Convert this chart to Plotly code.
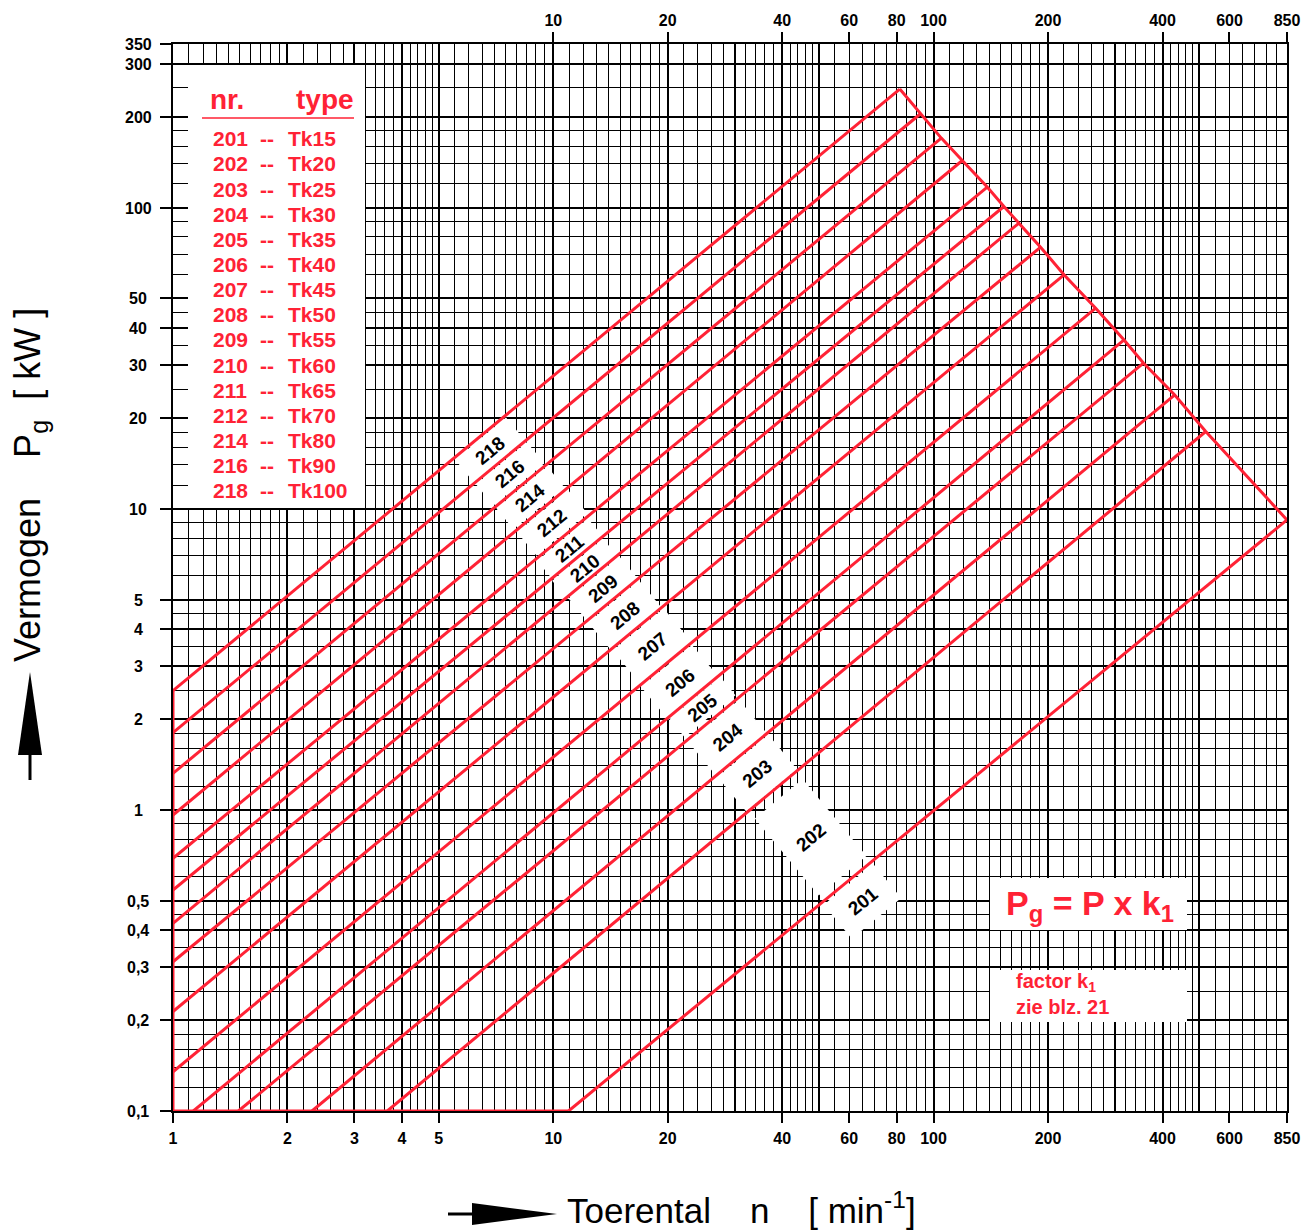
import math
import plotly.graph_objects as go

# ---------------- data ----------------
line_ids = ['201', '202', '203', '204', '205', '206', '207', '208',
            '209', '210', '211', '212', '214', '216', '218']
line_types = ['Tk15', 'Tk20', 'Tk25', 'Tk30', 'Tk35', 'Tk40', 'Tk45', 'Tk50',
              'Tk55', 'Tk60', 'Tk65', 'Tk70', 'Tk80', 'Tk90', 'Tk100']
# start of every line (n [min-1], Pg [kW])
start_n = [10.97, 3.66, 2.32, 1.486, 1.131, 1, 1, 1, 1, 1, 1, 1, 1, 1, 1]
start_p = [0.1, 0.1, 0.1, 0.1, 0.1, 0.135, 0.214, 0.313, 0.420, 0.542,
           0.691, 0.962, 1.323, 1.806, 2.49]
# end of every line on the upper-right limit
end_n = [850, 519.7, 430.8, 356.3, 316.9, 266.9, 220.3, 191.2, 167.7, 153.1,
         138.4, 119.0, 104.8, 92.4, 81.5]
end_p = [9.19, 18.07, 23.9, 30.5, 36.4, 46.4, 59.9, 74.0, 88.96, 101.0,
         117.2, 143.6, 170.4, 205.3, 248.0]

x_tick_vals = [1, 2, 3, 4, 5, 10, 20, 40, 60, 80, 100, 200, 400, 600, 850]
x_top_tick_vals = [10, 20, 40, 60, 80, 100, 200, 400, 600, 850]
y_tick_vals = [0.1, 0.2, 0.3, 0.4, 0.5, 1, 2, 3, 4, 5, 10, 20, 30, 40, 50,
               100, 200, 300, 350]
y_tick_text = ['0,1', '0,2', '0,3', '0,4', '0,5', '1', '2', '3', '4', '5',
               '10', '20', '30', '40', '50', '100', '200', '300', '350']

# ---------------- style / layout constants ----------------
RED = '#ff2235'
FONT = 'Liberation Sans, Arial, Helvetica, sans-serif'
W, H = 1304, 1231
ML, MR, MT, MB = 173, 17, 44, 120
PW, PH = W - ML - MR, H - MT - MB
XR = [0.0, math.log10(850)]
YR = [-1.0, math.log10(350)]
PPD_X = PW / (XR[1] - XR[0])
PPD_Y = PH / (YR[1] - YR[0])


def xp(px):
    return (px - ML) / PW


def yp(py):
    return (H - MB - py) / PH


def n_at(px):
    return 10 ** (XR[0] + (px - ML) / PPD_X)


def p_at(py):
    return 10 ** (YR[0] + (H - MB - py) / PPD_Y)


def decade_vals(mants, lo, hi):
    out = []
    for e in range(-1, 3):
        for m in mants:
            v = round(m * 10 ** e, 6)
            if lo <= v <= hi and v not in out:
                out.append(v)
    return out


x_major = decade_vals([1, 2, 3, 4, 5], 1, 850)
x_minor = decade_vals([1.1, 1.2, 1.3, 1.4, 1.5, 1.6, 1.7, 1.8, 1.9,
                       2.2, 2.4, 2.6, 2.8, 3.2, 3.4, 3.6, 3.8,
                       4.2, 4.4, 4.6, 4.8, 5.5, 6, 6.5, 7, 7.5, 8, 8.5, 9, 9.5], 1, 849)
y_major = y_tick_vals
y_minor = decade_vals([1.2, 1.4, 1.6, 1.8, 2.5, 3.5, 4.5, 6, 7, 8, 9], 0.1, 349)

# label placement along each line (layout)
label_n = [59.1, 37.7, 31.3, 26.2, 23.4, 19.7, 16.6, 14.3, 12.7, 11.5,
           10.5, 9.3, 8.2, 7.25, 6.39]
label_offset = [24.9, 59.8, 24.4, 23.9, 13.8, 23.3, 24.5, 19.9, 16.3, 13.1,
                13.2, 17.1, 15.4, 15.7, 16.9]
label_box_len = [64, 62] + [66] * 13
label_box_h = [44, 100] + [None] * 13

fig = go.Figure()

# rating lines
for i in range(len(line_ids)):
    fig.add_trace(go.Scatter(
        x=[start_n[i], end_n[i]], y=[start_p[i], end_p[i]], mode='lines',
        line=dict(color=RED, width=3), cliponaxis=False,
        hoverinfo='skip', showlegend=False))

# upper-right limit through the line ends
fig.add_trace(go.Scatter(
    x=end_n[::-1], y=end_p[::-1], mode='lines',
    line=dict(color=RED, width=3), cliponaxis=False,
    hoverinfo='skip', showlegend=False))
# left / bottom limit
fig.add_trace(go.Scatter(
    x=[start_n[0], start_n[-1], start_n[-1]],
    y=[start_p[0], start_p[0], start_p[-1]], mode='lines',
    line=dict(color=RED, width=3), cliponaxis=False,
    hoverinfo='skip', showlegend=False))

# dummy traces so the overlay label axes are drawn
for ax in ['x2', 'x3']:
    fig.add_trace(go.Scatter(x=[10], y=[1], xaxis=ax, yaxis='y', mode='markers',
                             marker=dict(opacity=0), hoverinfo='skip',
                             showlegend=False))

shapes = []
annotations = []

# rotated line labels with white boxes
for i, lid in enumerate(line_ids):
    ln0, ln1 = math.log10(start_n[i]), math.log10(end_n[i])
    lp0, lp1 = math.log10(start_p[i]), math.log10(end_p[i])
    s = (lp1 - lp0) / (ln1 - ln0)
    th = math.atan(s * PPD_Y / PPD_X)
    lx = math.log10(label_n[i])
    ly = lp0 + (lx - ln0) * s
    d = label_offset[i]
    cx, cy = d * math.sin(th), -d * math.cos(th)
    ux, uy = math.cos(th), math.sin(th)
    vx, vy = -math.sin(th), math.cos(th)
    hl = label_box_len[i] / 2
    bh = label_box_h[i] if label_box_h[i] else max(2 * d - 4, 22)
    hh = bh / 2
    pts = [(cx + a * hl * ux + b * hh * vx, cy + a * hl * uy + b * hh * vy)
           for a, b in [(-1, -1), (1, -1), (1, 1), (-1, 1)]]
    path = 'M ' + ' L '.join(f'{px:.2f} {py:.2f}' for px, py in pts) + ' Z'
    shapes.append(dict(type='path', xref='x', yref='y', xsizemode='pixel',
                       ysizemode='pixel', xanchor=10 ** lx, yanchor=10 ** ly,
                       path=path, fillcolor='white', line=dict(width=0),
                       layer='between'))
    annotations.append(dict(x=lx, y=ly, xref='x', yref='y', text=lid,
                            showarrow=False, textangle=-math.degrees(th),
                            xshift=cx, yshift=cy,
                            font=dict(family=FONT, size=19, color='black',
                                      weight='bold')))

# y tick labels (centred, as in the reference)
for v, t in zip(y_tick_vals, y_tick_text):
    annotations.append(dict(x=xp(138), y=math.log10(v), xref='paper', yref='y',
                            text=t, showarrow=False, xanchor='center',
                            yanchor='middle', yshift=-0.5,
                            font=dict(family=FONT, size=16, color='black',
                                      weight='bold')))

# legend box
shapes.append(dict(type='rect', xref='x', yref='y', x0=n_at(188), x1=n_at(365),
                   y0=p_at(508), y1=p_at(65), fillcolor='white',
                   line=dict(width=0), layer='between'))
shapes.append(dict(type='line', xref='paper', yref='paper', x0=xp(202), x1=xp(354),
                   y0=yp(118), y1=yp(118), line=dict(color=RED, width=1.5)))
annotations.append(dict(x=xp(208), y=yp(99), xref='paper', yref='paper',
                        text='nr.', showarrow=False, xanchor='left', yanchor='middle',
                        font=dict(family=FONT, size=28, color=RED, weight='bold')))
annotations.append(dict(x=xp(356), y=yp(99), xref='paper', yref='paper',
                        text='type', showarrow=False, xanchor='right', yanchor='middle',
                        font=dict(family=FONT, size=28, color=RED, weight='bold')))
for i, lid in enumerate(line_ids):
    yc = yp(147.7 + i * 25.16 - 9)
    for xx, txt in [(210.5, lid), (258, '--'), (285.5, line_types[i])]:
        annotations.append(dict(x=xp(xx), y=yc, xref='paper', yref='paper',
                                text=txt, showarrow=False, xanchor='left',
                                yanchor='middle',
                                font=dict(family=FONT, size=21, color=RED,
                                          weight='bold')))

# formula boxes
shapes.append(dict(type='rect', xref='x', yref='y', x0=n_at(990), x1=n_at(1187),
                   y0=p_at(930), y1=p_at(878), fillcolor='white',
                   line=dict(width=0), layer='between'))
shapes.append(dict(type='rect', xref='x', yref='y', x0=n_at(990), x1=n_at(1187),
                   y0=p_at(1022), y1=p_at(970), fillcolor='white',
                   line=dict(width=0), layer='between'))
annotations.append(dict(x=xp(1090), y=yp(905), xref='paper', yref='paper',
                        text='P<sub>g</sub> = P x k<sub>1</sub>', showarrow=False,
                        xanchor='center', yanchor='middle',
                        font=dict(family=FONT, size=34, color=RED, weight='bold')))
annotations.append(dict(x=xp(1014), y=yp(994), xref='paper', yref='paper',
                        text='factor k<sub>1</sub><br>zie blz. 21', showarrow=False,
                        xanchor='left', yanchor='middle', align='left',
                        font=dict(family=FONT, size=20, color=RED, weight='bold')))

# axis titles
annotations.append(dict(x=xp(741), y=yp(1208), xref='paper', yref='paper',
                        text='Toerental    n    [ min<sup>-1</sup>]', showarrow=False,
                        xanchor='center', yanchor='middle',
                        font=dict(family=FONT, size=35, color='black')))
annotations.append(dict(x=xp(30), y=yp(485), xref='paper', yref='paper',
                        text='Vermogen    P<sub>g</sub>  [ kW ]', showarrow=False,
                        textangle=-90, xanchor='center', yanchor='middle',
                        font=dict(family=FONT, size=36, color='black')))


# arrows next to the axis titles
def ppath(pts):
    return 'M ' + ' L '.join(f'{xp(a):.5f} {yp(b):.5f}' for a, b in pts) + ' Z'


shapes.append(dict(type='path', xref='paper', yref='paper',
                   path=ppath([(30, 672), (42, 755), (18, 755)]),
                   fillcolor='black', line=dict(width=0), layer='above'))
shapes.append(dict(type='line', xref='paper', yref='paper', x0=xp(30), x1=xp(30),
                   y0=yp(750), y1=yp(780), line=dict(color='black', width=3)))
shapes.append(dict(type='path', xref='paper', yref='paper',
                   path=ppath([(557, 1214), (472, 1203), (472, 1225)]),
                   fillcolor='black', line=dict(width=0), layer='above'))
shapes.append(dict(type='line', xref='paper', yref='paper', x0=xp(448), x1=xp(476),
                   y0=yp(1214), y1=yp(1214), line=dict(color='black', width=3)))

tickfont = dict(family=FONT, size=16, color='black', weight='bold')

fig.update_layout(
    width=W, height=H,
    margin=dict(l=ML, r=MR, t=MT, b=MB, pad=0, autoexpand=False),
    paper_bgcolor='white', plot_bgcolor='white', showlegend=False,
    font=dict(family=FONT),
    xaxis=dict(type='log', range=XR, autorange=False, tickmode='array',
               tickvals=x_major, showticklabels=False, ticks='',
               showgrid=True, gridcolor='black', gridwidth=2,
               minor=dict(tickmode='array', tickvals=x_minor, showgrid=True,
                          gridcolor='black', gridwidth=1, ticks=''),
               showline=True, linecolor='black', linewidth=2, mirror=True,
               zeroline=False, layer='below traces', fixedrange=True,
               automargin=False),
    xaxis2=dict(type='log', range=XR, autorange=False, overlaying='x', anchor='y',
                side='bottom', tickmode='array', tickvals=x_tick_vals,
                ticktext=[str(v) for v in x_tick_vals], ticks='outside',
                ticklen=11, tickwidth=2, tickcolor='black', showgrid=False,
                zeroline=False, showline=False, tickfont=tickfont,
                ticklabelstandoff=2, fixedrange=True, automargin=False),
    xaxis3=dict(type='log', range=XR, autorange=False, overlaying='x', anchor='y',
                side='top', tickmode='array', tickvals=x_top_tick_vals,
                ticktext=[str(v) for v in x_top_tick_vals], ticks='outside',
                ticklen=11, tickwidth=2, tickcolor='black', showgrid=False,
                zeroline=False, showline=False, tickfont=tickfont,
                ticklabelstandoff=0, fixedrange=True, automargin=False),
    yaxis=dict(type='log', range=YR, autorange=False, tickmode='array',
               tickvals=y_major, showticklabels=False, ticks='outside',
               ticklen=11, tickwidth=2, tickcolor='black',
               showgrid=True, gridcolor='black', gridwidth=2,
               minor=dict(tickmode='array', tickvals=y_minor, showgrid=True,
                          gridcolor='black', gridwidth=1, ticks=''),
               showline=True, linecolor='black', linewidth=2, mirror=True,
               zeroline=False, layer='below traces', fixedrange=True,
               automargin=False),
    shapes=shapes, annotations=annotations,
)

fig.write_html("out.html", config={'displayModeBar': False},
               post_script="document.body.style.margin='0';")
